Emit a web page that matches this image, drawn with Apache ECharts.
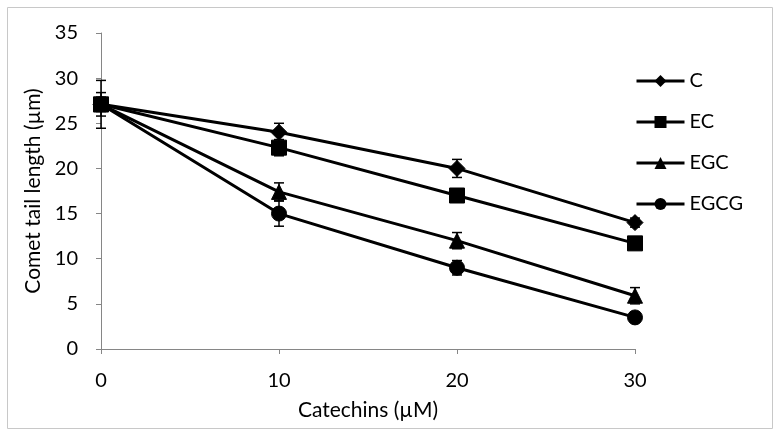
<!DOCTYPE html>
<html>
<head>
<meta charset="utf-8">
<script src="https://cdn.jsdelivr.net/npm/echarts@6/dist/echarts.min.js"></script>
<style>html,body{margin:0;padding:0;background:#fff;}#chart{width:779px;height:436px;}</style>
</head>
<body>
<div id="chart"></div>
<script>
var xValues = [0, 10, 20, 30];
var seriesNames = ['C', 'EC', 'EGC', 'EGCG'];
var symbols = ['diamond', 'rect', 'triangle', 'circle'];
var valuesC = [27.1, 24.0, 20.0, 14.0];
var valuesEC = [27.1, 22.3, 17.0, 11.7];
var valuesEGC = [27.1, 17.4, 12.0, 5.9];
var valuesEGCG = [27.1, 15.0, 9.0, 3.5];
var errorsC = [0.6, 1.0, 1.0, 0.5];
var errorsEC = [0.8, 0.9, 0.6, 0.5];
var errorsEGC = [1.3, 1.0, 0.9, 0.9];
var errorsEGCG = [2.65, 1.4, 0.8, 0.3];
var yTicks = [0, 5, 10, 15, 20, 25, 30, 35];
var xTicks = [0, 10, 20, 30];

var allValues = [valuesC, valuesEC, valuesEGC, valuesEGCG];
var allErrors = [errorsC, errorsEC, errorsEGC, errorsEGCG];
var FONT = 'Lato, "Open Sans", sans-serif';
var symbolSizes = { diamond: 16, rect: 15, triangle: 15, circle: 15 };

var series = [];
seriesNames.forEach(function (name, i) {
  series.push({
    name: name,
    type: 'line',
    data: xValues.map(function (x, j) { return [x, allValues[i][j]]; }),
    symbol: symbols[i],
    symbolSize: symbolSizes[symbols[i]],
    lineStyle: { color: '#000', width: 3 },
    itemStyle: { color: '#000', borderColor: '#000' },
    z: 3
  });
});
seriesNames.forEach(function (name, i) {
  series.push({
    type: 'custom',
    name: name + ' err',
    data: xValues.map(function (x, j) { return [x, allValues[i][j] - allErrors[i][j], allValues[i][j] + allErrors[i][j]]; }),
    renderItem: function (params, api) {
      var lo = api.coord([api.value(0), api.value(1)]);
      var hi = api.coord([api.value(0), api.value(2)]);
      var w = 5;
      var st = { stroke: '#000', lineWidth: 1.5 };
      return {
        type: 'group',
        children: [
          { type: 'line', shape: { x1: lo[0], y1: lo[1], x2: hi[0], y2: hi[1] }, style: st },
          { type: 'line', shape: { x1: lo[0] - w, y1: lo[1], x2: lo[0] + w, y2: lo[1] }, style: st },
          { type: 'line', shape: { x1: hi[0] - w, y1: hi[1], x2: hi[0] + w, y2: hi[1] }, style: st }
        ]
      };
    },
    encode: { x: 0, y: [1, 2] },
    z: 4,
    silent: true
  });
});

var chart = echarts.init(document.getElementById('chart'), null, { renderer: 'canvas' });
chart.setOption({
  animation: false,
  backgroundColor: '#fff',
  graphic: [{
    type: 'rect',
    shape: { x: 7.5, y: 7.5, width: 765, height: 421 },
    style: { fill: 'none', stroke: '#c8c8c8', lineWidth: 1 },
    silent: true
  }],
  grid: { left: 101, right: 144, top: 33, bottom: 87 },
  legend: {
    data: seriesNames,
    orient: 'vertical',
    left: 630,
    top: 66,
    itemWidth: 48,
    itemHeight: 15,
    itemGap: 21,
    lineStyle: { width: 3, color: '#000' },
    textStyle: { fontFamily: FONT, fontSize: 20, color: '#000' }
  },
  xAxis: {
    type: 'value',
    min: 0, max: 30, interval: 10,
    name: 'Catechins (µM)',
    nameLocation: 'middle',
    nameGap: 51,
    nameTextStyle: { fontFamily: FONT, fontSize: 21, color: '#000' },
    axisLine: { lineStyle: { color: '#868686', width: 1 } },
    axisTick: { show: true, inside: false, length: 5, lineStyle: { color: '#868686' } },
    axisLabel: { fontFamily: FONT, fontSize: 20, color: '#000', margin: 22,
      formatter: function (v) { return xTicks.indexOf(v) >= 0 ? String(v) : ''; } },
    splitLine: { show: false }
  },
  yAxis: {
    type: 'value',
    min: 0, max: 35, interval: 5,
    name: 'Comet tail length (µm)',
    nameLocation: 'middle',
    nameGap: 51,
    nameRotate: 90,
    nameTextStyle: { fontFamily: FONT, fontSize: 21, color: '#000' },
    axisLine: { show: true, lineStyle: { color: '#868686', width: 1 } },
    axisTick: { show: true, inside: false, length: 5, lineStyle: { color: '#868686' } },
    axisLabel: { fontFamily: FONT, fontSize: 20, color: '#000', margin: 23,
      formatter: function (v) { return yTicks.indexOf(v) >= 0 ? String(v) : ''; } },
    splitLine: { show: false }
  },
  series: series
});
</script>
</body>
</html>
